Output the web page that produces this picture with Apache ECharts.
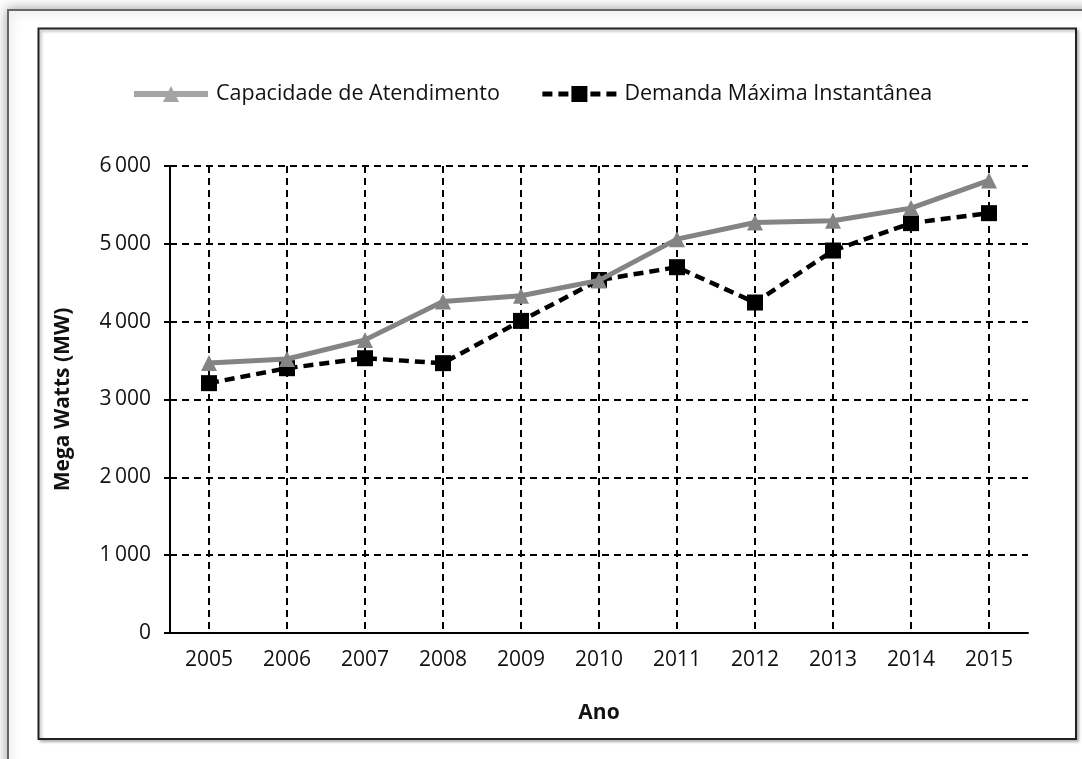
<!DOCTYPE html>
<html>
<head>
<meta charset="utf-8">
<script src="https://cdn.jsdelivr.net/npm/echarts@6/dist/echarts.min.js"></script>
<style>
html,body{margin:0;padding:0;background:#fff;}
#chart{width:1082px;height:759px;}
</style>
</head>
<body>
<div id="chart"></div>
<script>
// dados
var anos = ['2005','2006','2007','2008','2009','2010','2011','2012','2013','2014','2015'];
var capacidade = [3470, 3520, 3766, 4258, 4332, 4530, 5060, 5274, 5296, 5459, 5814];
var demanda = [3210, 3402, 3530, 3467, 4010, 4535, 4700, 4246, 4914, 5266, 5394];
var yTicks = [0, 1000, 2000, 3000, 4000, 5000, 6000];

var fonte = '"Open Sans", sans-serif';
var dashGrid = {color: '#000', width: 2, type: [7, 5]};

var myChart = echarts.init(document.getElementById('chart'));
var option = {
    backgroundColor: '#fff',
    animation: false,
    textStyle: {fontFamily: fonte, color: '#111'},
    graphic: [
        {
            type: 'rect',
            shape: {x: 8, y: 10, width: 1200, height: 900},
            style: {fill: '#fff', stroke: '#666', lineWidth: 2,
                shadowBlur: 12, shadowColor: 'rgba(0,0,0,0.35)'},
            z: -10
        },
        {
            type: 'rect',
            shape: {x: 38.5, y: 28.5, width: 1037.5, height: 710.5},
            style: {fill: '#fff', stroke: '#222', lineWidth: 2,
                shadowBlur: 3, shadowOffsetX: 2, shadowOffsetY: 2, shadowColor: 'rgba(0,0,0,0.3)'},
            z: -9
        }
    ],
    legend: {
        top: 78,
        left: 126,
        itemWidth: 74,
        itemHeight: 20,
        itemGap: 40,
        textStyle: {fontFamily: fonte, fontSize: 21.5, color: '#111', padding: [0, 0, 0, 3]},
        data: [
            {name: 'Capacidade de Atendimento',
                itemStyle: {color: '#a4a4a4'},
                lineStyle: {color: '#a4a4a4', width: 6}},
            {name: 'Demanda Máxima Instantânea',
                lineStyle: {width: 5}}
        ]
    },
    grid: {left: 170, right: 54, top: 166, bottom: 126},
    xAxis: {
        type: 'category',
        data: anos,
        name: 'Ano',
        nameLocation: 'middle',
        nameGap: 70,
        nameTextStyle: {fontFamily: fonte, fontSize: 21, fontWeight: 'bold', color: '#111'},
        axisLine: {lineStyle: {color: '#000', width: 2}},
        axisTick: {show: false},
        axisLabel: {fontFamily: fonte, fontSize: 21, color: '#111', margin: 17},
        splitLine: {show: true, alignWithLabel: true, lineStyle: dashGrid}
    },
    yAxis: {
        type: 'value',
        min: yTicks[0],
        max: yTicks[yTicks.length - 1],
        interval: 1000,
        name: 'Mega Watts (MW)',
        nameLocation: 'middle',
        nameGap: 96,
        nameTextStyle: {fontFamily: fonte, fontSize: 21, fontWeight: 'bold', color: '#111'},
        axisLine: {show: true, lineStyle: {color: '#000', width: 2}},
        axisTick: {show: true, length: 6, lineStyle: {color: '#000', width: 2}},
        axisLabel: {
            fontFamily: fonte, fontSize: 21, color: '#111', margin: 19,
            formatter: function (v) {
                return v >= 1000 ? Math.floor(v / 1000) + '\u2009' + ('00' + (v % 1000)).slice(-3) : String(v);
            }
        },
        splitLine: {show: true, lineStyle: dashGrid}
    },
    series: [
        {
            name: 'Capacidade de Atendimento',
            type: 'line',
            data: capacidade,
            symbol: 'triangle',
            symbolSize: 16,
            itemStyle: {color: '#848484'},
            lineStyle: {color: '#848484', width: 5},
            z: 3
        },
        {
            name: 'Demanda Máxima Instantânea',
            type: 'line',
            data: demanda,
            symbol: 'rect',
            symbolSize: 16,
            itemStyle: {color: '#000'},
            lineStyle: {color: '#000', width: 4.5, type: [10, 6]},
            z: 2
        }
    ]
};
myChart.setOption(option);
</script>
</body>
</html>
